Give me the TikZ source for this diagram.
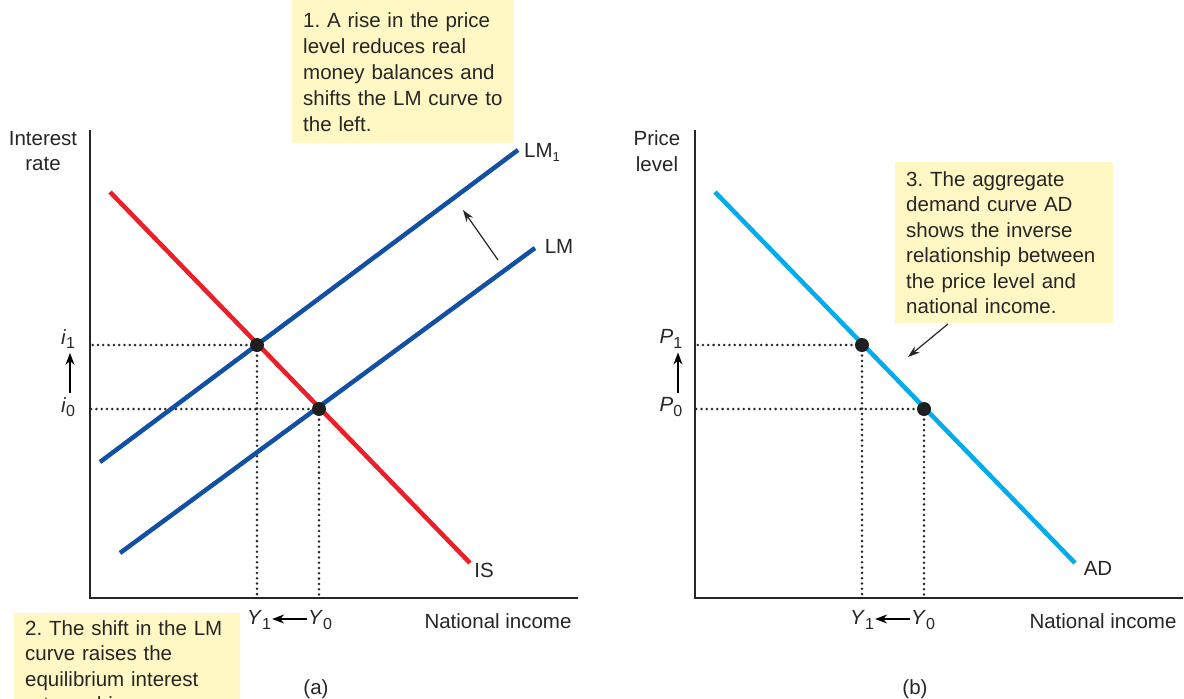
\documentclass[tikz,border=0pt]{standalone}
\usepackage{fontspec}
\setmainfont{Liberation Sans}
\usetikzlibrary{arrows.meta}
\definecolor{lmblue}{RGB}{18,80,164}
\definecolor{isred}{RGB}{236,30,40}
\definecolor{adcyan}{RGB}{0,172,236}
\definecolor{notefill}{RGB}{255,247,196}
\newcommand{\lowidx}[1]{\raisebox{-4.5pt}{\fontsize{16}{16}\selectfont #1}}
\frenchspacing
\tikzset{
  curve/.style={line width=4.5pt},
  axisline/.style={line width=1.4pt,black!85},
  guide/.style={line width=2.8pt,dash pattern=on 0pt off 5.3pt,line cap=round,black!85},
  eqpt/.style={circle,fill=black!88,inner sep=0pt,minimum size=14pt},
  note/.style={fill=notefill,align=left,anchor=north west,inner xsep=11pt,inner ysep=9pt},
  levelarrow/.style={line width=1.5pt,-{Stealth[length=12pt,width=9pt]}},
  notearrow/.style={line width=1.2pt,black!85,-{Stealth[length=12pt,width=8pt]}}
}
\begin{document}
\begin{tikzpicture}[x=1pt,y=-1pt,every node/.style={font=\fontsize{20.5}{25.5}\selectfont,inner sep=0pt,text=black!85}]
\useasboundingbox (0,0) rectangle (1184,699);
\clip (0,0) rectangle (1184,699);
% (a) IS-LM
\begin{scope}
\coordinate (oa) at (90,598);
\draw[axisline] (90,130) -- (oa) -- (578,598);
\node[align=center] (ylab-a) at (43,151) {Interest\\rate};
\node (xlab-a) at (498,621) {National income};
\coordinate (e1) at (257,345);
\coordinate (e0) at (319,409);
\draw[guide] (e1) -- (e1 -| oa); \draw[guide] (e1) -- (e1 |- oa);
\draw[guide] (e0) -- (e0 -| oa); \draw[guide] (e0) -- (e0 |- oa);
\draw[curve,isred] (110,192) -- (470,563);
\draw[curve,lmblue] (100,462) -- (518,150);
\draw[curve,lmblue] (120,553) -- (535,248);
\node[eqpt] (pt1) at (e1) {};
\node[eqpt] (pt0) at (e0) {};
\node (is) at (484,570) {IS};
\node (lm1) at (542,152) {LM\raisebox{-4pt}{\fontsize{13}{13}\selectfont 1}};
\node (lm) at (559,246) {LM};
\coordinate (sh-a) at (498,260);
\coordinate (sh-b) at (463,210);
\draw[notearrow] (sh-a) -- (sh-b);
\node (i1) at (68,339) {\textit{i}\lowidx{1}};
\node (i0) at (68,407) {\textit{i}\lowidx{0}};
\draw[levelarrow] (i0.north) ++(2,-4) -- ([xshift=2pt,yshift=-4pt]i1.south);
\node (y1) at (259,620) {\textit{Y}\lowidx{1}};
\node (y0) at (320,620) {\textit{Y}\lowidx{0}};
\draw[levelarrow] (y0.west) ++(-1,-1) -- ([xshift=1pt,yshift=1pt]y1.east);
\node[note,text width=200pt,inner ysep=12pt,font=\fontsize{20.5}{26}\selectfont] (note1) at (292,0) {1. A rise in the price\\level reduces real\\money balances and\\shifts the LM curve to\\the left.};
\node[note,text width=204pt,inner ysep=7pt] (note2) at (14,613) {2. The shift in the LM\\curve raises the\\equilibrium interest\\rate and income.};
\node (cap-a) at (316,689) {(a)};
\end{scope}
% (b) aggregate demand
\begin{scope}[xshift=605pt]
\coordinate (ob) at (90,598);
\draw[axisline] (90,130) -- (ob) -- (578,598);
\node[align=center] (ylab-b) at (52,151) {Price\\level};
\node (xlab-b) at (498,621) {National income};
\coordinate (f1) at (257,345);
\coordinate (f0) at (319,409);
\draw[guide] (f1) -- (f1 -| ob); \draw[guide] (f1) -- (f1 |- ob);
\draw[guide] (f0) -- (f0 -| ob); \draw[guide] (f0) -- (f0 |- ob);
\draw[curve,adcyan] (110,192) -- (470,563);
\node[eqpt] (q1) at (f1) {};
\node[eqpt] (q0) at (f0) {};
\node (ad) at (493,568) {AD};
\node (p1) at (66,339) {\textit{P}\lowidx{1}};
\node (p0) at (66,407) {\textit{P}\lowidx{0}};
\draw[levelarrow] (p0.north) ++(7,-4) -- ([xshift=7pt,yshift=-4pt]p1.south);
\node (yb1) at (257,620) {\textit{Y}\lowidx{1}};
\node (yb0) at (318,620) {\textit{Y}\lowidx{0}};
\draw[levelarrow] (yb0.west) ++(-1,-1) -- ([xshift=1pt,yshift=1pt]yb1.east);
\node[note,text width=196pt,inner ysep=9pt] (note3) at (290,162) {3. The aggregate\\demand curve AD\\shows the inverse\\relationship between\\the price level and\\national income.};
\coordinate (ad-tip) at (303,357);
\draw[notearrow] (note3.south west) ++(53,1) -- (ad-tip);
\node (cap-b) at (310,689) {(b)};
\end{scope}
\end{tikzpicture}
\end{document}
